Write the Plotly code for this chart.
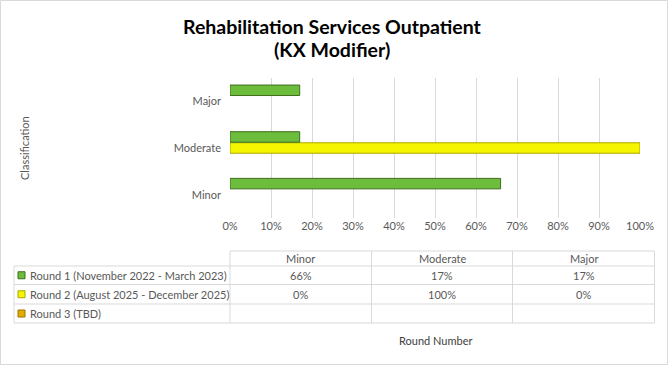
import plotly.graph_objects as go

categories = ["Minor", "Moderate", "Major"]
series_names = [
    "Round 1 (November 2022 - March 2023)",
    "Round 2 (August 2025 - December 2025)",
    "Round 3 (TBD)",
]
round1 = [0.66, 0.17, 0.17]
round2 = [0.0, 1.0, 0.0]
round3 = [None, None, None]
x_ticks = [i / 10 for i in range(11)]
x_tick_labels = [f"{i*10}%" for i in range(11)]

W, H = 668, 365
L, R, T, B = 230, 28, 78, 147
PW, PH = W - L - R, H - T - B

def px(x):
    return (x - L) / PW

def py(y):
    return (H - B - y) / PH

fill = ["#6cbd3c", "#f5f500", "#e3ad00"]
edge = ["#3e6e1e", "#a8a800", "#9a7400"]
all_series = [round1, round2, round3]

fig = go.Figure()
# plotly places first trace at bottom of group for horizontal bars
for i in [2, 1, 0]:
    vals = all_series[i]
    line_cols = [edge[i] if (v is not None and v > 0) else "rgba(0,0,0,0)" for v in vals]
    fig.add_trace(go.Bar(
        y=categories, x=vals, orientation="h", name=series_names[i],
        marker=dict(color=fill[i], line=dict(color=line_cols, width=1)),
        showlegend=False,
    ))

fnt = "Lato, Open Sans, sans-serif"
fsz = 11
fig.update_layout(
    width=W, height=H,
    margin=dict(l=L, r=R, t=T, b=B),
    paper_bgcolor="white", plot_bgcolor="white",
    barmode="group", bargap=0.29, bargroupgap=0.05,
    font=dict(family=fnt, color="#595959", size=fsz),
    xaxis=dict(
        range=[0, 1], tickvals=x_ticks, ticktext=x_tick_labels,
        showgrid=True, gridcolor="#d9d9d9", gridwidth=1,
        zeroline=False, showline=False, ticks="",
        tickfont=dict(size=fsz, color="#595959"),
    ),
    yaxis=dict(
        categoryorder="array", categoryarray=categories,
        showgrid=False, zeroline=False, showline=False, ticks="",
        ticklabelstandoff=8,
        tickfont=dict(size=fsz, color="#595959"),
    ),
)

shapes = []
ann = []

def text(t, x, y, xa="center", ya="middle", size=fsz, color="#595959", **kw):
    ann.append(dict(text=t, xref="paper", yref="paper", x=px(x), y=py(y),
                    xanchor=xa, yanchor=ya, showarrow=False,
                    font=dict(size=size, color=color, family=fnt), **kw))

# title
text("<b>Rehabilitation Services Outpatient</b>", 332, 26, size=19.5, color="#000000")
text("<b>(KX Modifier)</b>", 332, 49, size=19.5, color="#000000")

# chart outer border
shapes.append(dict(type="rect", xref="paper", yref="paper",
                   x0=px(0.5), x1=px(W - 0.5), y0=py(0.5), y1=py(H - 0.5),
                   line=dict(color="#d9d9d9", width=1)))

# y-axis title
text("Classification", 24, 148, textangle=-90)

# data table
col_edges = [14, 230, 371.5, 512.5, 654.5]
row_edges = [251, 266, 284.5, 304, 323]
line_c = "#d9d9d9"
for j, yy in enumerate(row_edges):
    x_start = col_edges[1] if j == 0 else col_edges[0]
    shapes.append(dict(type="line", xref="paper", yref="paper",
                       x0=px(x_start), x1=px(col_edges[-1]), y0=py(yy), y1=py(yy),
                       line=dict(color=line_c, width=1)))
for k, xx in enumerate(col_edges):
    y_start = row_edges[1] if k == 0 else row_edges[0]
    shapes.append(dict(type="line", xref="paper", yref="paper",
                       x0=px(xx), x1=px(xx), y0=py(y_start), y1=py(row_edges[-1]),
                       line=dict(color=line_c, width=1)))

for c, cat in enumerate(categories):
    cx = (col_edges[c + 1] + col_edges[c + 2]) / 2
    cy = (row_edges[0] + row_edges[1]) / 2
    text(cat, cx, cy)

for r, (name, vals) in enumerate(zip(series_names, all_series)):
    cy = (row_edges[r + 1] + row_edges[r + 2]) / 2
    shapes.append(dict(type="rect", xref="paper", yref="paper",
                       x0=px(18), x1=px(25), y0=py(cy - 3.5), y1=py(cy + 3.5),
                       fillcolor=fill[r], line=dict(color=edge[r], width=1)))
    text(name, 28, cy, xa="left")
    for c, v in enumerate(vals):
        if v is None:
            continue
        cx = (col_edges[c + 1] + col_edges[c + 2]) / 2
        text(f"{round(v*100)}%", cx, cy)

text("Round Number", 435, 340, color="#404040")

fig.update_layout(shapes=shapes, annotations=ann)
fig.write_html("out.html", config={"displayModeBar": False},
               post_script="document.body.style.margin='0';document.body.style.overflow='hidden';")
